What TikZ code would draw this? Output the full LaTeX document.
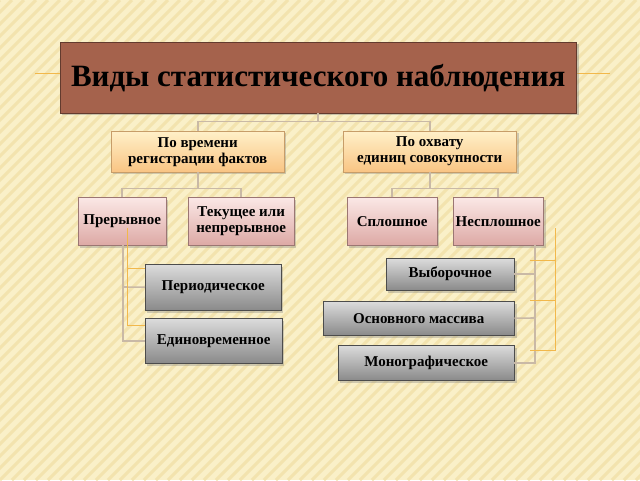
\documentclass[tikz,border=0pt]{standalone}
\usepackage{fontspec}
\setmainfont{Liberation Serif}
\usetikzlibrary{shadows}
\definecolor{bg}{HTML}{FAF0C8}
\definecolor{stripe}{HTML}{F3E3AE}
\definecolor{titlec}{HTML}{A5624C}
\definecolor{orangel}{HTML}{FFF0C8}
\definecolor{oranged}{HTML}{F9C483}
\definecolor{pinkl}{HTML}{FBE8E6}
\definecolor{pinkd}{HTML}{DDA9A5}
\definecolor{greyl}{HTML}{DCDCDC}
\definecolor{greyd}{HTML}{8A8A8A}
\definecolor{conn}{HTML}{C9B9A6}
\definecolor{acc}{HTML}{F2B84B}
\tikzset{
 base/.style={draw=#1, font=\bfseries\fontsize{15}{16}\selectfont, align=center, inner sep=0pt, anchor=north west, drop shadow={opacity=0.35}},
 obox/.style={base=oranged!80!black, top color=orangel, bottom color=oranged},
 pbox/.style={base=pinkd!70!black, top color=pinkl, bottom color=pinkd},
 gbox/.style={base=black!70, top color=greyl, bottom color=greyd},
 cl/.style={draw=conn, line width=1.6pt},
 al/.style={draw=acc, line width=1pt},
}
\begin{document}
\begin{tikzpicture}[x=1pt,y=-1pt]
\useasboundingbox (0,0) rectangle (640,480);
\fill[bg] (0,0) rectangle (640,480);
\begin{scope}
\clip (0,0) rectangle (640,480);
\foreach \i in {0,12,...,1140} \draw[stripe, line width=3pt] (\i-480,480) -- (\i,0);
\end{scope}
\draw[acc, line width=1pt] (35,73) -- (60,73) (576,73) -- (610,73);
\node[draw=titlec!60!black, fill=titlec, minimum width=516pt, minimum height=71pt, anchor=north west, inner sep=0pt, drop shadow={opacity=0.4}, font=\bfseries\fontsize{31}{33}\selectfont] (t) at (60,42) {Виды статистического наблюдения};
\node[obox, minimum width=173pt, minimum height=41pt] (a) at (111,131) {По времени\\регистрации фактов};
\node[obox, minimum width=173pt, minimum height=41pt] (b) at (343,131) {По охвату\\единиц совокупности};
\node[pbox, minimum width=88pt, minimum height=48pt] (a1) at (78,197) {Прерывное};
\node[pbox, minimum width=106pt, minimum height=48pt] (a2) at (188,197) {Текущее или\\непрерывное};
\node[pbox, minimum width=90pt, minimum height=48pt] (b1) at (347,197) {Сплошное};
\node[pbox, minimum width=90pt, minimum height=48pt] (b2) at (453,197) {Несплошное};
\node[gbox, minimum width=136pt, minimum height=46pt] (g1) at (145,264) {Периодическое};
\node[gbox, minimum width=137pt, minimum height=45pt] (g2) at (145,318) {Единовременное};
\node[gbox, minimum width=128pt, minimum height=32pt] (h1) at (386,258) {Выборочное};
\node[gbox, minimum width=191pt, minimum height=34pt] (h2) at (323,301) {Основного массива};
\node[gbox, minimum width=176pt, minimum height=35pt] (h3) at (338,345) {Монографическое};
% connectors
\draw[cl] (t.south) -- ++(0,8) -| (a.north);
\draw[cl] (t.south) ++(0,8) -| (b.north);
\draw[cl] (a.south) -- ++(0,16) -| (a1.north);
\draw[cl] (a.south) ++(0,16) -| (a2.north);
\draw[cl] (b.south) -- ++(0,16) -| (b1.north);
\draw[cl] (b.south) ++(0,16) -| (b2.north);
\coordinate (lc) at (123,245);
\draw[cl] (lc) |- (g2.west);
\draw[cl] (123,287) -- (g1.west);
\draw[al] (127,228) -- (127,325) -- (g2.west |- 0,325);
\draw[al] (127,268) -- (g1.west |- 0,268);
\coordinate (rc) at (535,245);
\draw[cl] (rc) |- (h3.east);
\draw[cl] (535,318) -- (h2.east);
\draw[cl] (h1.east) -- (h1.east -| 535,0);
\draw[al] (555,228) -- (555,350) -- (530,350);
\draw[al] (555,300) -- (530,300) (555,260) -- (530,260);
\end{tikzpicture}
\end{document}
